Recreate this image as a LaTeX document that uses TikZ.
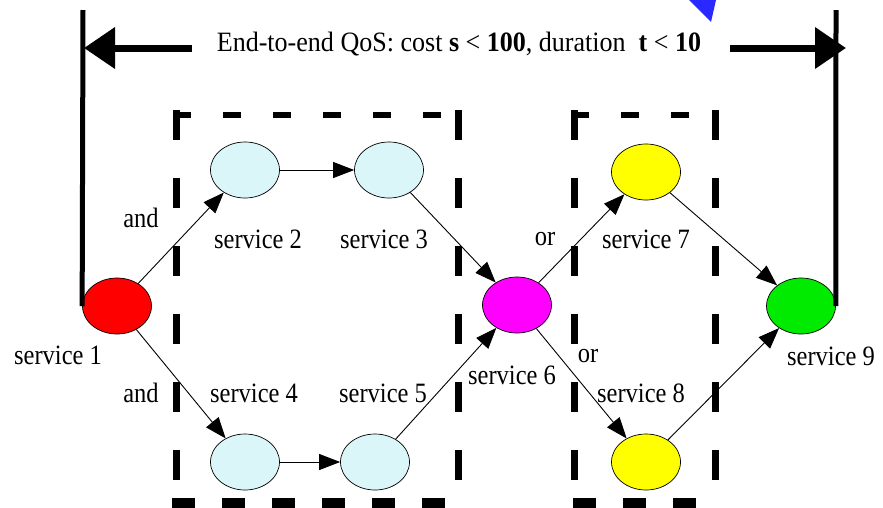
\documentclass[tikz,border=0pt]{standalone}
\usepackage{fontspec}
\setmainfont{Liberation Serif}[FakeStretch=0.875]
\newfontfamily\titlefont[FakeStretch=0.93]{Liberation Serif}
\usetikzlibrary{shapes.geometric,arrows.meta}
\definecolor{svcblue}{RGB}{218,246,248}
\definecolor{svcred}{RGB}{255,0,0}
\definecolor{svcmag}{RGB}{255,0,255}
\definecolor{svcyel}{RGB}{255,255,0}
\definecolor{svcgrn}{RGB}{0,235,0}
\definecolor{tipblue}{RGB}{40,40,255}
\begin{document}
\begin{tikzpicture}[x=1pt,y=-1pt,
  svc/.style={ellipse, draw=black, line width=0.7pt, minimum width=69pt, minimum height=56pt, inner sep=0pt},
  lab/.style={font=\fontsize{28}{28}\selectfont, inner sep=0pt},
  flow/.style={line width=0.9pt, -{Triangle[length=21pt,width=16pt]}},
  bigarrow/.style={line width=7pt, -{Triangle[length=31pt,width=40pt]}},
  bracket/.style={line width=5pt},
  vdsh/.style={line width=7pt, dash pattern=on 30pt off 38pt},
  hdsh/.style={line width=6pt, dash pattern=on 18pt off 32pt},
  bdsh/.style={line width=10pt, dash pattern=on 23pt off 27pt}]
\useasboundingbox (0,0) rectangle (883,507);

% dashed group boxes
\draw[vdsh] (176,110) -- (176,507);
\draw[vdsh] (458,110) -- (458,507);
\draw[hdsh] (173,115) -- (460,115);
\draw[bdsh] (172,503) -- (460,503);
\draw[vdsh] (574,110) -- (574,507);
\draw[vdsh] (715,110) -- (715,507);
\draw[hdsh] (571,115) -- (718,115);
\draw[bdsh] (573,503) -- (718,503);

% services
\node[svc, fill=svcred] (s1) at (117,306) {};
\node[svc, fill=svcblue] (s2) at (245,170) {};
\node[svc, fill=svcblue] (s3) at (389,170) {};
\node[svc, fill=svcblue] (s4) at (245,462) {};
\node[svc, fill=svcblue] (s5) at (375,462) {};
\node[svc, fill=svcmag] (s6) at (517,305) {};
\node[svc, fill=svcyel] (s7) at (646,172) {};
\node[svc, fill=svcyel] (s8) at (646,462) {};
\node[svc, fill=svcgrn] (s9) at (801,306) {};

% labels
\node[lab] (l1) at (58,355) {service 1};
\node[lab] (l2) at (258,239) {service 2};
\node[lab] (l3) at (384,239) {service 3};
\node[lab] (l4) at (254,393) {service 4};
\node[lab] (l5) at (383,393) {service 5};
\node[lab] (l6) at (512,375) {service 6};
\node[lab] (l7) at (646,239) {service 7};
\node[lab] (l8) at (641,393) {service 8};
\node[lab] (l9) at (831,356) {service 9};
\node[lab] (and1) at (141,218) {and};
\node[lab] (and2) at (141,393) {and};
\node[lab] (or1) at (545,239) {or};
\node[lab] (or2) at (588,356) {or};

% flows
\draw[flow] (s1) -- (s2);
\draw[flow] (s1) -- (s4);
\draw[flow] (s2) -- (s3);
\draw[flow] (s4) -- (s5);
\draw[flow] (s3) -- (s6);
\draw[flow] (s5) -- (s6);
\draw[flow] (s6) -- (s7);
\draw[flow] (s6) -- (s8);
\draw[flow] (s7) -- (s9);
\draw[flow] (s8) -- (s9);

% end-to-end bracket
\coordinate (tl) at (83,10);
\coordinate (tr) at (836,10);
\draw[bracket] (s1.west) -- (tl);
\draw[bracket] (s9.east) -- (tr);
\node[lab, font=\titlefont\fontsize{28}{28}\selectfont] (title) at (459,44) {End-to-end QoS: cost \textbf{s} < \textbf{100}, duration\ \ \textbf{t} < \textbf{10}};
\coordinate (als) at (192,48);
\coordinate (al) at (84,48);
\coordinate (ars) at (730,48);
\coordinate (ar) at (846,48);
\draw[bigarrow] (als) -- (al);
\draw[bigarrow] (ars) -- (ar);

% blue fragment at top
\fill[tipblue] (689,0) -- (716,0) -- (711,22) -- cycle;
\end{tikzpicture}
\end{document}
